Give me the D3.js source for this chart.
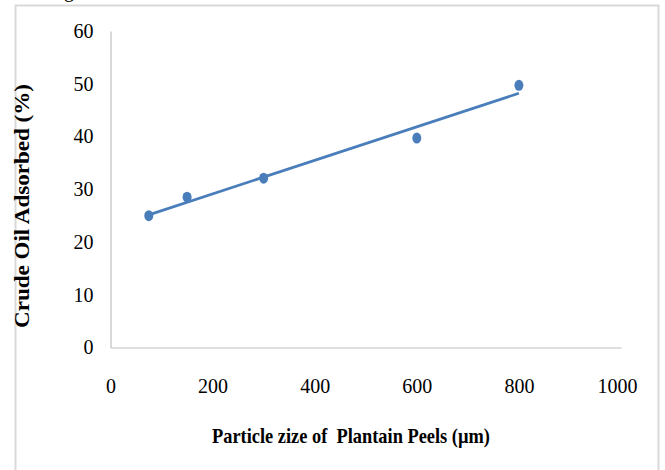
<!DOCTYPE html>
<html>
<head>
<meta charset="utf-8">
<script src="https://cdn.jsdelivr.net/npm/d3@7/dist/d3.min.js"></script>
<style>
  html, body { margin: 0; padding: 0; background: #fff; }
  svg { display: block; }
  text { font-family: "Liberation Serif", "Times New Roman", serif; fill: #000; }
</style>
</head>
<body>
<svg id="chart" width="665" height="470"></svg>
<script>
// Particle size (µm) vs. crude oil adsorbed (%)
const particleSize = [75, 150, 300, 600, 800];
const oilAdsorbed = [25.0, 28.5, 32.1, 39.7, 49.7];
const xTicks = [0, 200, 400, 600, 800, 1000];
const yTicks = [0, 10, 20, 30, 40, 50, 60];
const xTitle = "Particle zize of  Plantain Peels (\u00b5m)";
const yTitle = "Crude Oil Adsorbed (%)";

const svg = d3.select("#chart");
const W = 665, H = 470;
const seriesColor = "#4a7ebb";

// Outer chart frame
svg.append("rect")
  .attr("x", 15.5).attr("y", 5.5)
  .attr("width", 643).attr("height", H + 10)
  .attr("fill", "#fff")
  .attr("stroke", "#d9d9d9").attr("stroke-width", 2);

// Trailing caption fragment running off the top edge
svg.append("text")
  .attr("x", 69).attr("y", -3)
  .attr("text-anchor", "middle")
  .style("font-size", "20px")
  .text("g");

const x = d3.scaleLinear().domain([0, 1000]).range([110.5, 621]);
const y = d3.scaleLinear().domain([0, 60]).range([347.5, 31]);

// Axes
const xAxis = svg.append("g")
  .attr("transform", `translate(0,${y(0)})`)
  .call(d3.axisBottom(x).tickValues(xTicks).tickSize(0).tickPadding(31).tickFormat(d3.format("d")));
xAxis.select(".domain").attr("stroke", "#bfbfbf").attr("stroke-width", 1.2);
xAxis.selectAll("text")
  .style("font-size", "20px")
  .style("font-family", "'Liberation Serif', serif")
  .attr("fill", "#000");
xAxis.selectAll(".tick").filter(d => d === 1000).select("text").attr("dx", -4);

const yAxis = svg.append("g")
  .attr("transform", `translate(${x(0)},0)`)
  .call(d3.axisLeft(y).tickValues(yTicks).tickSize(0).tickPadding(17).tickFormat(d3.format("d")));
yAxis.select(".domain").attr("stroke", "#bfbfbf").attr("stroke-width", 1.2);
yAxis.selectAll("text")
  .style("font-size", "20px")
  .style("font-family", "'Liberation Serif', serif")
  .attr("fill", "#000");

// Linear least-squares trendline over the observed range
const n = particleSize.length;
const mx = d3.mean(particleSize), my = d3.mean(oilAdsorbed);
let sxy = 0, sxx = 0;
for (let i = 0; i < n; i++) {
  sxy += (particleSize[i] - mx) * (oilAdsorbed[i] - my);
  sxx += (particleSize[i] - mx) ** 2;
}
const slope = sxy / sxx, intercept = my - slope * mx;
const xExt = d3.extent(particleSize);
svg.append("line")
  .attr("x1", x(xExt[0])).attr("y1", y(intercept + slope * xExt[0]))
  .attr("x2", x(xExt[1])).attr("y2", y(intercept + slope * xExt[1]))
  .attr("stroke", seriesColor).attr("stroke-width", 2.8);

// Data markers
svg.append("g").selectAll("ellipse")
  .data(particleSize.map((d, i) => [d, oilAdsorbed[i]]))
  .join("ellipse")
  .attr("cx", d => x(d[0]))
  .attr("cy", d => y(d[1]))
  .attr("rx", 4.5).attr("ry", 5.5)
  .attr("fill", seriesColor);

// Axis titles
svg.append("text")
  .attr("x", 351).attr("y", 443)
  .attr("text-anchor", "middle")
  .attr("textLength", 278).attr("lengthAdjust", "spacingAndGlyphs")
  .style("font-size", "21px").style("font-weight", "bold")
  .style("white-space", "pre")
  .text(xTitle);

svg.append("text")
  .attr("transform", "translate(29,206) rotate(-90)")
  .attr("text-anchor", "middle")
  .attr("textLength", 244).attr("lengthAdjust", "spacingAndGlyphs")
  .style("font-size", "20px").style("font-weight", "bold")
  .text(yTitle);
</script>
</body>
</html>
